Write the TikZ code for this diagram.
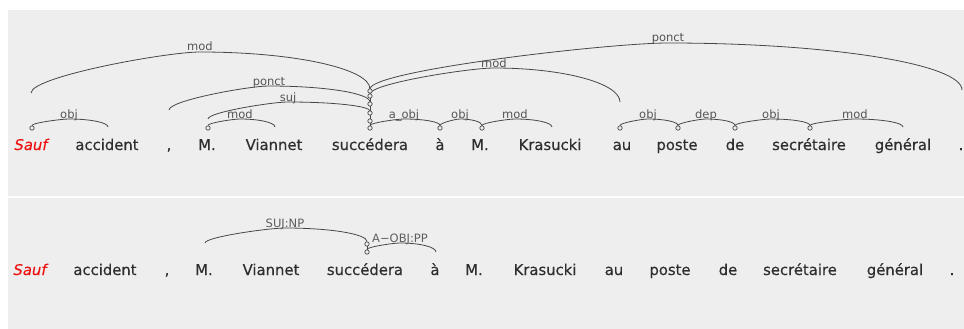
\documentclass[tikz,border=0pt]{standalone}
\usepackage{fontspec}
\setmainfont{DejaVu Sans}
\newfontfamily\wordfont{DejaVu Sans}[FakeBold=0.35]
\usetikzlibrary{calc}

\definecolor{panel}{HTML}{EEEEEE}
\definecolor{ink}{HTML}{2E2E2E}
\definecolor{arcink}{HTML}{474747}
\definecolor{lblink}{HTML}{555555}
\definecolor{lblinkb}{HTML}{5E5E5E}
\definecolor{saufred}{HTML}{EE1111}

% dependency arc: start, peak, end, label text, label node name
\newcommand\deparc[5]{%
  \draw[deplink] let \p1=(#1), \p2=(#2), \p3=(#3) in
    (\p1) .. controls (\x1,{\y1+0.4*(\y2-\y1)}) and ({\x2-0.2*(\x2-\x1)},\y2) .. (\p2)
          .. controls ({\x2+0.552*(\x3-\x2)},\y2) and (\x3,{\y3+0.552*(\y2-\y3)}) .. (\p3);
  \node[lbl] (#5) at ($(#2)+(0,-1)$) {#4};
}

\begin{document}
\begin{tikzpicture}[x=1pt,y=-1pt,
  word/.style={anchor=base, inner sep=0, text=ink, font=\wordfont\fontsize{14.8}{16}\selectfont},
  headword/.style={word, text=saufred, font=\wordfont\fontsize{14.8}{16}\selectfont\itshape},
  lbl/.style={anchor=base, inner sep=0, text=lblink, font=\fontsize{11.5}{12}\selectfont},
  deplink/.style={draw=arcink, line width=0.8pt},
  hub/.style={circle, draw=arcink, fill=panel, line width=0.7pt, inner sep=0, minimum size=4.4pt},
]
\useasboundingbox (0,0) rectangle (964,329);
\fill[white] (0,0) rectangle (964,329);
\fill[panel] (8,10) rectangle (964,196);
\fill[panel] (8,198) rectangle (964,329);

% ---------- upper panel: dependency tree ----------
\node[headword] (a1)  at (31,150)  {Sauf};
\node[word]     (a2)  at (107,150) {accident};
\node[word]     (a3)  at (169,150) {,};
\node[word]     (a4)  at (207,150) {M.};
\node[word]     (a5)  at (274,150) {Viannet};
\node[word]     (a6)  at (370,150) {succédera};
\node[word]     (a7)  at (440,150) {à};
\node[word]     (a8)  at (480,150) {M.};
\node[word]     (a9)  at (550,150) {Krasucki};
\node[word]     (a10) at (622,150) {au};
\node[word]     (a11) at (677,150) {poste};
\node[word]     (a12) at (735,150) {de};
\node[word]     (a13) at (809,150) {secrétaire};
\node[word]     (a14) at (903,150) {général};
\node[word]     (a15) at (961,150) {.};

% loose ends of arcs
\coordinate (e1) at (108,127);
\coordinate (e2) at (31,93);
\coordinate (e3) at (169,110);
\coordinate (e4) at (208,119);
\coordinate (e5) at (275,127);
\coordinate (e6) at (552,127);
\coordinate (e7) at (620,102);
\coordinate (e8) at (962,90);
\coordinate (e9) at (903,127);

% stack of attachment points on the verb
\draw[deplink] (370,91) -- (370,128);

\deparc{e2}{200,52}{370,89}{mod}{l2}
\deparc{e3}{269,86}{370,102}{ponct}{l3}
\deparc{e4}{288,102}{370,111}{suj}{l4}
\deparc{370,94}{494,68}{e7}{mod}{l9}
\deparc{370,89}{668,43}{e8}{ponct}{l10}

\node[hub] (k1) at (32,128) {};
\node[hub] (k2) at (208,128) {};
\node[hub] (s1) at (370,128) {};
\node[hub] (s2) at (370,121) {};
\node[hub] (s3) at (370,113) {};
\node[hub] (s4) at (370,104) {};
\node[hub] (s5) at (370,96) {};
\node[hub] (s6) at (370,91) {};
\node[hub] (k4) at (440,128) {};
\node[hub] (k5) at (482,128) {};
\node[hub] (k6) at (620,128) {};
\node[hub] (k7) at (678,128) {};
\node[hub] (k8) at (735,128) {};
\node[hub] (k9) at (810,128) {};

\deparc{k1.north}{69,119}{e1}{obj}{l1}
\deparc{k2.north}{240,119}{e5}{mod}{l5}
\deparc{s1.north}{404,119}{k4.north}{a\_obj}{l6}
\deparc{k4.north}{460,119}{k5.north}{obj}{l7}
\deparc{k5.north}{515,119}{e6}{mod}{l8}
\deparc{k6.north}{648,119}{k7.north}{obj}{l11}
\deparc{k7.north}{706,119}{k8.north}{dep}{l12}
\deparc{k8.north}{771,119}{k9.north}{obj}{l13}
\deparc{k9.north}{855,119}{e9}{mod}{l14}

% ---------- lower panel: labelled constituents ----------
\node[headword] (b1)  at (30,275)  {Sauf};
\node[word]     (b2)  at (105,275) {accident};
\node[word]     (b3)  at (167,275) {,};
\node[word]     (b4)  at (204,275) {M.};
\node[word]     (b5)  at (271,275) {Viannet};
\node[word]     (b6)  at (365,275) {succédera};
\node[word]     (b7)  at (435,275) {à};
\node[word]     (b8)  at (474,275) {M.};
\node[word]     (b9)  at (545,275) {Krasucki};
\node[word]     (b10) at (614,275) {au};
\node[word]     (b11) at (670,275) {poste};
\node[word]     (b12) at (728,275) {de};
\node[word]     (b13) at (800,275) {secrétaire};
\node[word]     (b14) at (895,275) {général};
\node[word]     (b15) at (952,275) {.};

\coordinate (f1) at (205,243);
\coordinate (f2) at (436,252);

\draw[deplink] (367,244) -- (367,252);
\node[hub] (t1) at (367,244) {};
\node[hub] (t2) at (367,252) {};

\begin{scope}[lbl/.append style={text=lblinkb}]
\deparc{f1}{285,228}{t1.north}{SUJ:NP}{m1}
\deparc{t2.north}{400,243}{f2}{A−OBJ:PP}{m2}
\end{scope}
\end{tikzpicture}
\end{document}
